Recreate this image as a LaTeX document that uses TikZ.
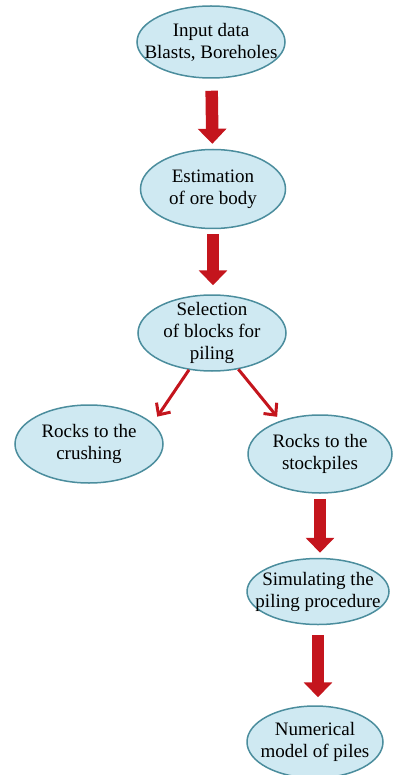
\documentclass[tikz,border=0pt]{standalone}
\usepackage{fontspec}
\setmainfont{Liberation Serif}
\usetikzlibrary{arrows.meta,positioning,shapes.geometric}
\definecolor{blobfill}{HTML}{CFE9F2}
\definecolor{blobline}{HTML}{4B8D9D}
\definecolor{arrowred}{HTML}{C4151D}
\tikzset{
    %Define style for ellipses
    blob/.style={
           ellipse,
           draw=blobline, line width=1.5pt,
           fill=blobfill,
           minimum width=146pt,
           minimum height=76pt,
           inner sep=0pt},
    blobtext/.style={
           align=center,
           inner sep=0pt,
           font=\fontsize{19}{22}\selectfont},
    % Define arrow styles
    fat/.style={
           draw=arrowred,
           line width=12.5pt,
           -{Triangle[length=15pt,width=28pt]}},
    branch/.style={
           draw=arrowred,
           line width=3pt,
           -{Straight Barb[length=9pt,width=17pt]}}
}

\begin{document}
\begin{tikzpicture}[x=1pt,y=-1pt]
\useasboundingbox (0,0) rectangle (392,775);
\node[blob, minimum width=148pt, minimum height=72pt,
  label={[blobtext]center:{Input data\\Blasts, Boreholes}}] (input) at (211,42) {};
\node[blob, minimum width=145pt, minimum height=79pt, below=70pt of input, xshift=2pt,
  label={[blobtext]center:{Estimation\\of ore body}}] (estim) {};
\node[blob, minimum width=148pt, below=65pt of estim, xshift=-1pt,
  label={[blobtext]center:{Selection\\of blocks for\\piling}}] (select) {};
\node[blob, minimum width=148pt, minimum height=78pt,
  label={[blobtext]center:{Rocks to the\\crushing}}] (crush) at (89,444) {};
\node[blob, minimum width=144pt, minimum height=78pt,
  label={[blobtext]center:{Rocks to the\\stockpiles}}] (stock) at (320,454) {};
\node[blob, minimum width=142pt, minimum height=66pt, below=64pt of stock, xshift=-2pt,
  label={[blobtext]center:{Simulating the\\piling procedure}}] (simul) {};
\node[blob, minimum width=136pt, minimum height=72pt, below=80pt of simul, xshift=-3pt,
  label={[blobtext]center:{Numerical\\model of piles}}] (model) {};
% arrows
\draw[fat, shorten <=12pt, shorten >=5pt] (input) -- (estim);
\draw[fat, shorten <=5pt, shorten >=9pt] (estim) -- (estim |- select.north);
\draw[branch, shorten >=8pt] (select.238) -- (crush.18);
\draw[branch, shorten >=5pt] (select.306) -- (stock.140);
\draw[fat, shorten <=5pt, shorten >=5pt] (stock) -- (stock |- simul.north);
\draw[fat, shorten <=10pt, shorten >=8pt] (simul) -- (simul |- model.north);
\end{tikzpicture}
\end{document}
